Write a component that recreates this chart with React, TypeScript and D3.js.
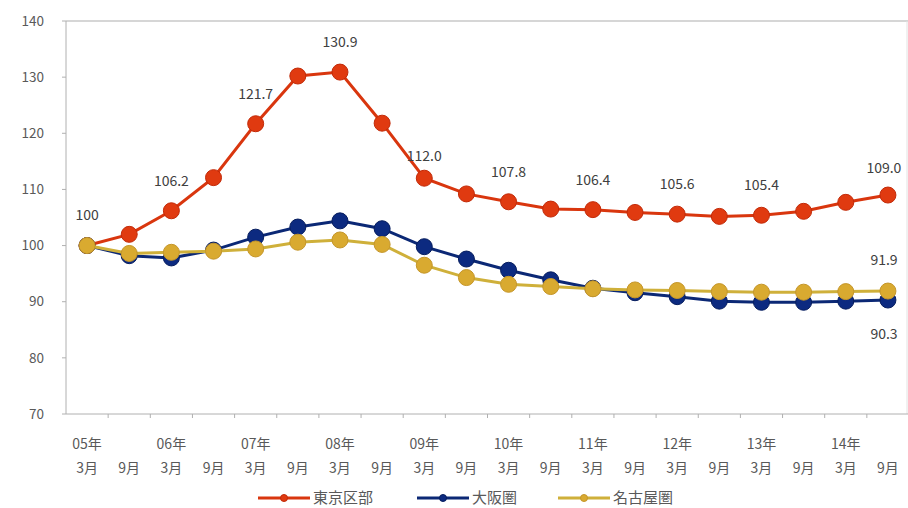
import React from "react";
import * as d3 from "d3";

const categories = [
  "05-3", "05-9", "06-3", "06-9", "07-3", "07-9", "08-3", "08-9", "09-3", "09-9",
  "10-3", "10-9", "11-3", "11-9", "12-3", "12-9", "13-3", "13-9", "14-3", "14-9",
];
const monthLabels = [
  "3月", "9月", "3月", "9月", "3月", "9月", "3月", "9月", "3月", "9月",
  "3月", "9月", "3月", "9月", "3月", "9月", "3月", "9月", "3月", "9月",
];
const yearLabels = [
  "05年", "", "06年", "", "07年", "", "08年", "", "09年", "",
  "10年", "", "11年", "", "12年", "", "13年", "", "14年", "",
];
const tokyo = [100, 102.0, 106.2, 112.1, 121.7, 130.2, 130.9, 121.8, 112.0, 109.2,
  107.8, 106.5, 106.4, 105.9, 105.6, 105.2, 105.4, 106.1, 107.7, 109.0];
const osaka = [100, 98.2, 97.8, 99.2, 101.5, 103.3, 104.4, 103.0, 99.8, 97.6,
  95.6, 93.9, 92.4, 91.6, 90.9, 90.1, 89.9, 89.9, 90.1, 90.3];
const nagoya = [100, 98.6, 98.8, 99.0, 99.4, 100.6, 101.0, 100.2, 96.5, 94.3,
  93.1, 92.7, 92.3, 92.1, 92.0, 91.8, 91.7, 91.7, 91.8, 91.9];
const yTicks = [70, 80, 90, 100, 110, 120, 130, 140];
const seriesNames = ["東京区部", "大阪圏", "名古屋圏"];
const tokyoLabelIdx = [0, 2, 4, 6, 8, 10, 12, 14, 16, 19];
const tokyoLabelText = ["100", "106.2", "121.7", "130.9", "112.0", "107.8", "106.4", "105.6", "105.4", "109.0"];

const W = 908, H = 508;
const FONT = "'Noto Sans CJK JP', 'Noto Sans', sans-serif";
const TEXT = "#595959";

export default function App() {
  const x = d3.scaleBand<string>().domain(categories).range([66, 909]);
  const bw = x.bandwidth();
  const cx = (i: number) => (x(categories[i]) as number) + bw / 2;
  const y = d3.scaleLinear().domain([70, 140]).range([414, 21]);

  const line = d3.line<number>().x((_, i) => cx(i)).y((d) => y(d));

  const series = [
    { name: seriesNames[0], data: tokyo, line: "#d9360e", fill: "#e03a10", stroke: "#c22a08" },
    { name: seriesNames[1], data: osaka, line: "#0b2875", fill: "#0c2a80", stroke: "#061d5e" },
    { name: seriesNames[2], data: nagoya, line: "#cfb03a", fill: "#d9aa30", stroke: "#c5962a" },
  ];
  const drawOrder = [0, 1, 2];

  const legendX = [258, 417, 558];

  return (
    <svg width={W} height={H} style={{ position: "absolute", left: 0, top: 0, background: "#fff" }}
      fontFamily={FONT}>
      <line x1={66} x2={909} y1={21} y2={21} stroke="#d6d6d6" strokeWidth={2} />
      <line x1={907} x2={907} y1={21} y2={414} stroke="#e2e2e2" strokeWidth={1} />
      <line x1={66} x2={66} y1={21} y2={414} stroke="#b0b0b0" strokeWidth={1} />
      <line x1={66} x2={909} y1={414} y2={414} stroke="#b0b0b0" strokeWidth={1} />
      {yTicks.map((t) => (
        <g key={t}>
          <line x1={62} x2={66} y1={y(t)} y2={y(t)} stroke="#b0b0b0" />
          <text x={44} y={y(t)} dy="0.35em" textAnchor="end" fontSize={13.5} fill={TEXT}>{t}</text>
        </g>
      ))}
      {categories.map((c, i) => (
        <g key={c}>
          <line x1={(x(c) as number) + bw} x2={(x(c) as number) + bw} y1={414} y2={418} stroke="#b0b0b0" />
          {yearLabels[i] && (
            <text x={cx(i)} y={449} textAnchor="middle" fontSize={14} fill={TEXT}>{yearLabels[i]}</text>
          )}
          <text x={cx(i)} y={473} textAnchor="middle" fontSize={14} fill={TEXT}>{monthLabels[i]}</text>
        </g>
      ))}
      {drawOrder.map((si) => {
        const s = series[si];
        return (
          <g key={s.name}>
            <path d={line(s.data) || ""} fill="none" stroke={s.line} strokeWidth={3} />
            {s.data.map((v, i) => (
              <circle key={i} cx={cx(i)} cy={y(v)} r={8} fill={s.fill} stroke={s.stroke} strokeWidth={1} />
            ))}
          </g>
        );
      })}
      {tokyoLabelIdx.map((idx, k) => (
        <text key={idx} x={idx === 19 ? cx(idx) - 4 : cx(idx)} y={y(tokyo[idx]) - (idx === 8 ? 22 : idx === 19 ? 27 : 30)}
          dy="0.35em" textAnchor="middle" fontSize={14} fill="#404040">{tokyoLabelText[k]}</text>
      ))}
      <text x={884} y={y(nagoya[19]) - 31} dy="0.35em" textAnchor="middle" fontSize={14} fill="#404040">91.9</text>
      <text x={884} y={y(osaka[19]) + 34} dy="0.35em" textAnchor="middle" fontSize={14} fill="#404040">90.3</text>
      {series.map((s, i) => (
        <g key={s.name} transform={`translate(${legendX[i]},498)`}>
          <line x1={0} x2={52} y1={0} y2={0} stroke={s.line} strokeWidth={3} />
          <circle cx={26} cy={0} r={3.5} fill={s.fill} stroke={s.stroke} />
          <text x={55} y={0} dy="0.35em" fontSize={15} fill={TEXT}>{s.name}</text>
        </g>
      ))}
    </svg>
  );
}
